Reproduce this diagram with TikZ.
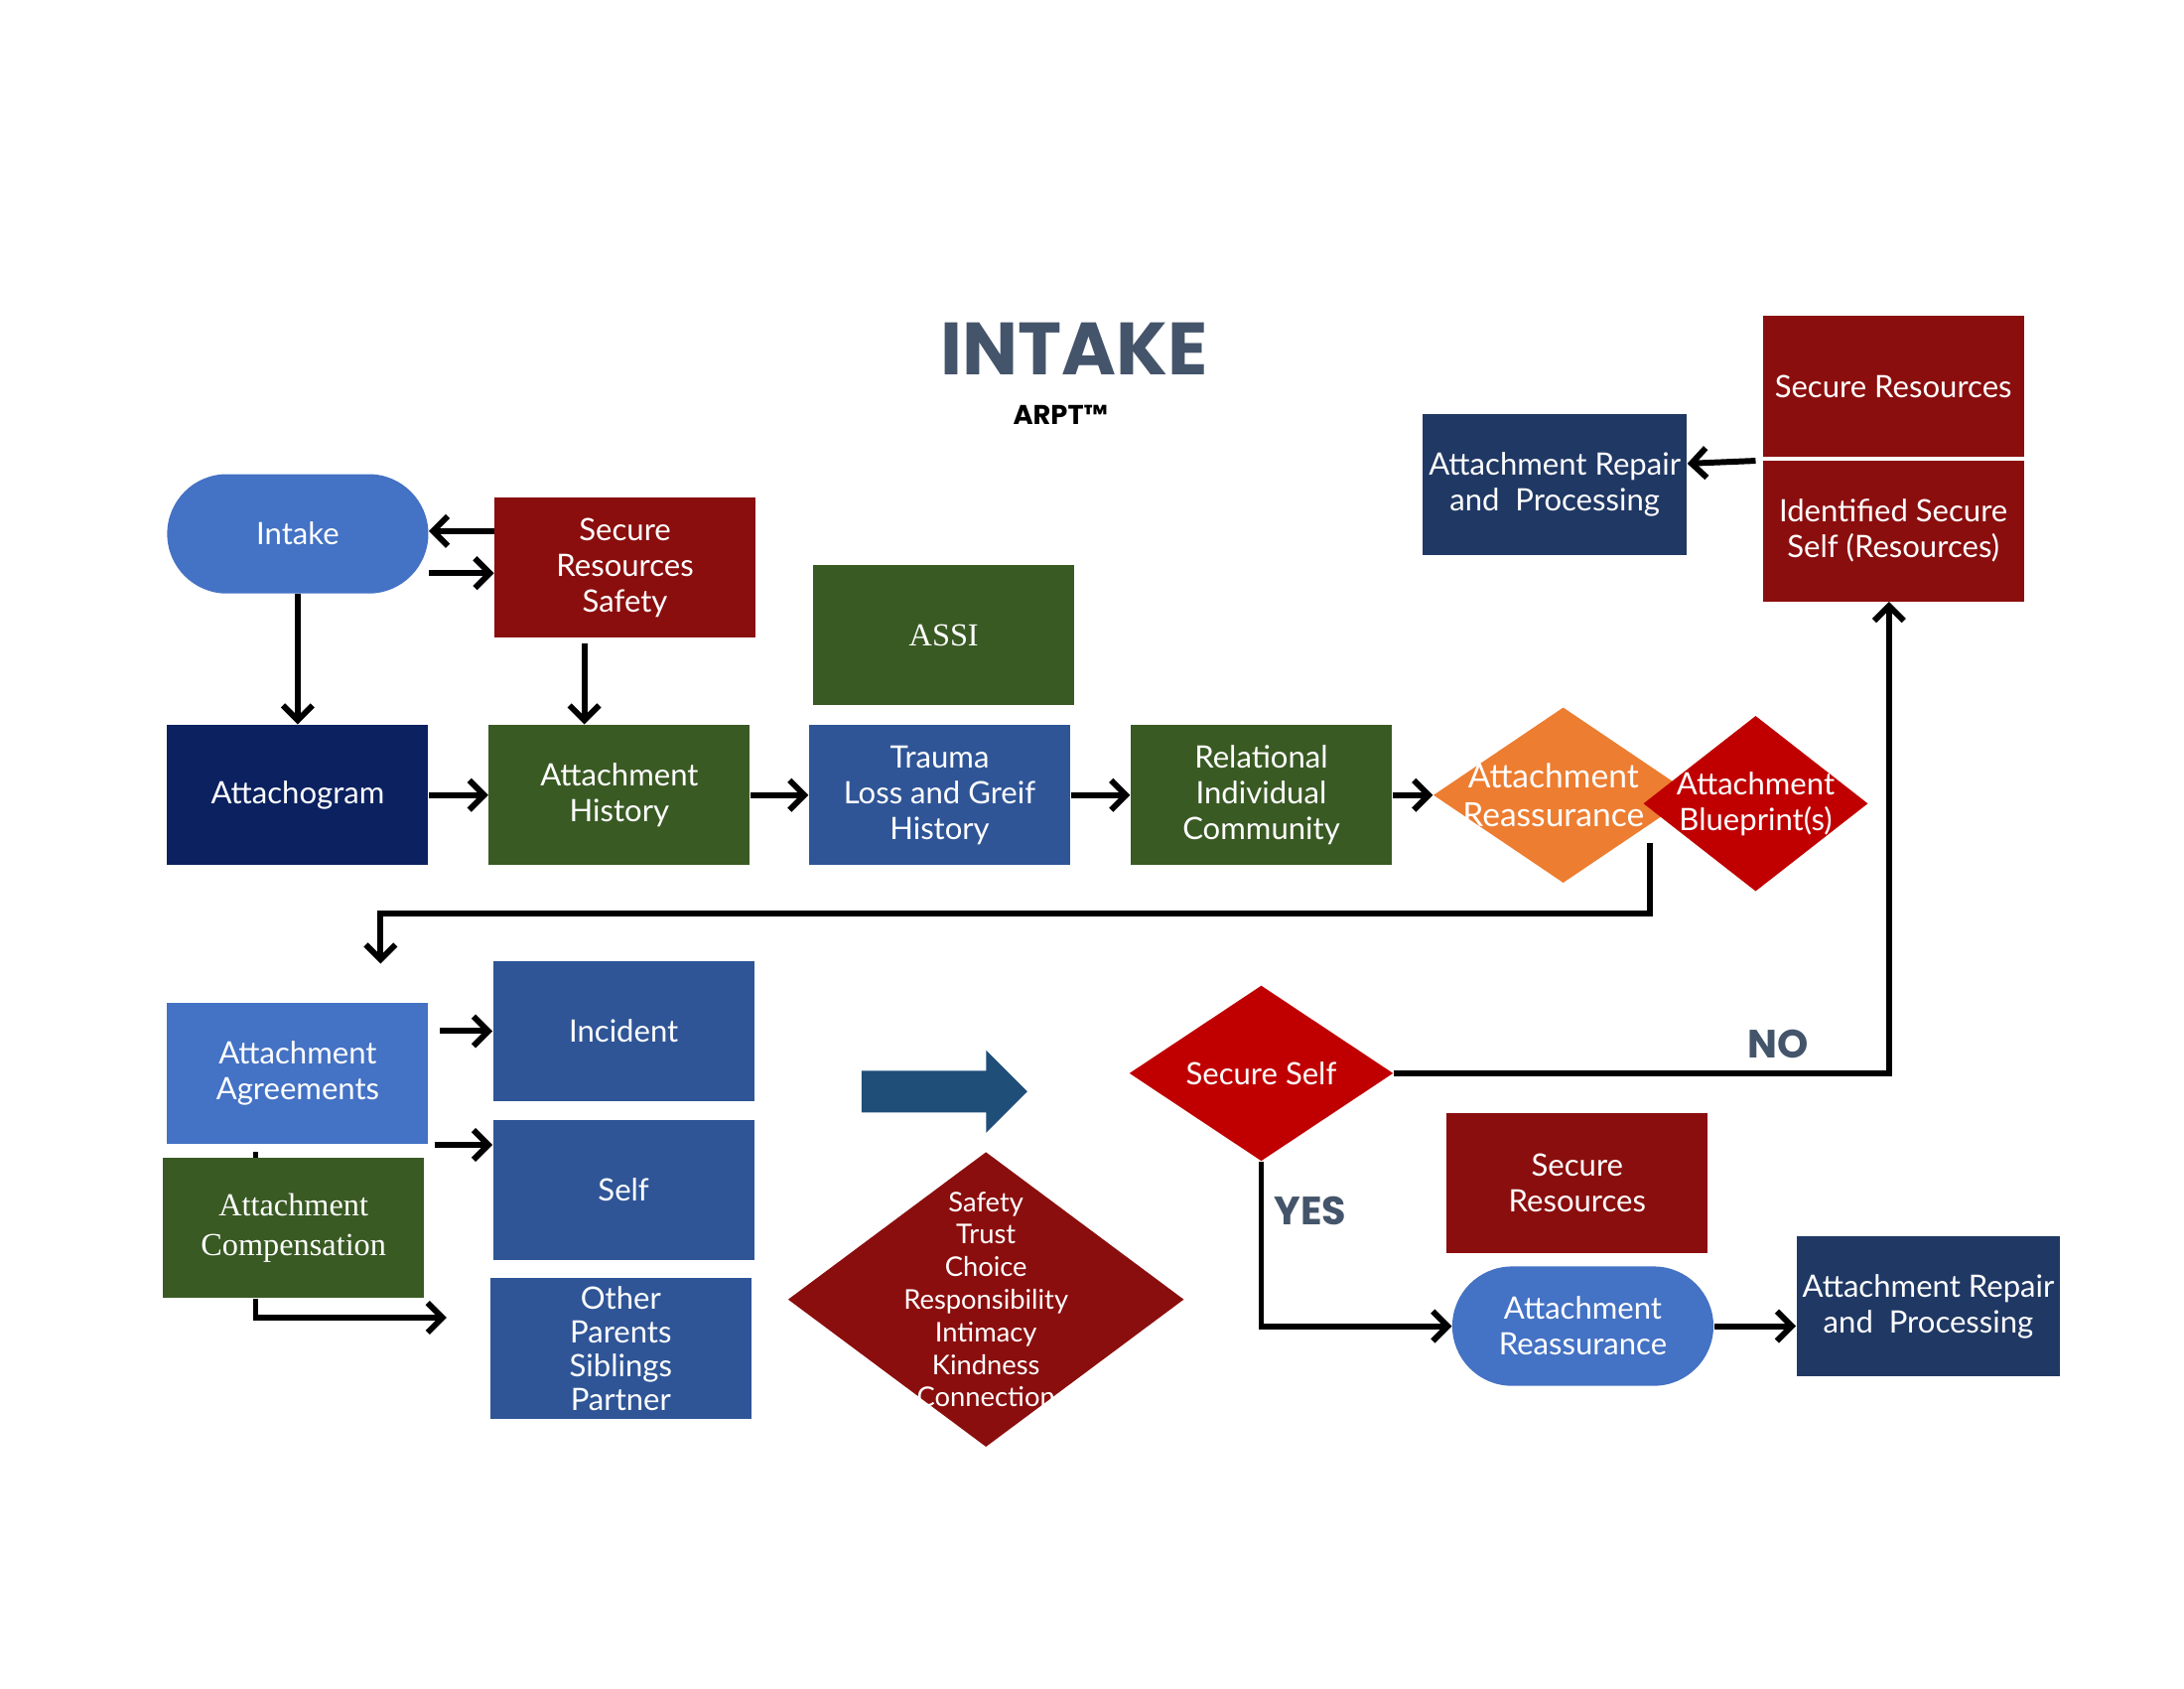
\documentclass[tikz,border=0pt]{standalone}
\usepackage{fontspec}
\setmainfont{Lato}
\newfontfamily\titlefont{Poppins}
\newfontfamily\serffont{Liberation Serif}
\usetikzlibrary{arrows.meta}
\usetikzlibrary{shapes.geometric}
\usetikzlibrary{shapes.arrows}
\definecolor{cdarkred}{HTML}{8B0E0E}
\definecolor{cred}{HTML}{C00000}
\definecolor{cgreen}{HTML}{3A5A24}
\definecolor{cblue}{HTML}{2F5597}
\definecolor{clight}{HTML}{4472C4}
\definecolor{cnavy}{HTML}{0B2160}
\definecolor{cslate}{HTML}{203864}
\definecolor{corange}{HTML}{ED7D31}
\definecolor{ctitle}{HTML}{44546A}
\definecolor{carrow}{HTML}{1F4E79}
\tikzset{
    box/.style = {rectangle, align=center, text=white, minimum width=3.72cm, minimum height=2cm, inner sep=2pt, font=\fontsize{12.5}{14.5}\selectfont},
    pill/.style = {box, rounded corners=0.85cm, minimum height=1.7cm},
    dia/.style = {diamond, inner sep=0pt},
    dtext/.style = {align=center, text=white, font=\fontsize{12.5}{14.5}\selectfont},
    link/.style = {line width=2.4pt, -{Straight Barb[length=6pt,width=12pt,line width=2.4pt]}}
}
\begin{document}
\begin{tikzpicture}[x=0.02cm,y=-0.02cm]
    \useasboundingbox (0,0) rectangle (1555,1202);

    % title
    \node (title) at (765,248) {\titlefont\bfseries\fontsize{30}{32}\selectfont\textcolor{ctitle}{INTAKE}};
    \node (sub) at (755,295) {\titlefont\bfseries\fontsize{11}{13}\selectfont ARPT™};

    % top rows
    \node [pill, fill=clight] (intake) at (212,380) {Intake};
    \node [box, fill=cdarkred] (safety) at (445,404) {Secure\\Resources\\Safety};
    \node [box, fill=cgreen, font=\serffont\fontsize{13}{15}\selectfont] (assi) at (672,452) {ASSI};
    \node [box, fill=cnavy] (gram) at (212,566) {Attachogram};
    \node [box, fill=cgreen] (hist) at (441,566) {Attachment\\History};
    \node [box, fill=cblue] (trauma) at (669,566) {Trauma\\Loss and Greif\\History};
    \node [box, fill=cgreen] (rel) at (898,566) {Relational\\Individual\\Community};
    \node [dia, fill=corange, minimum width=3.7cm, minimum height=2.5cm] (reass) at (1113,566) {};
    \node [dia, fill=cred, minimum width=3.2cm, minimum height=2.5cm] (blue) at (1250,572) {};
    \node [dtext, font=\fontsize{13.5}{15.5}\selectfont] at (1106,566) {Attachment\\Reassurance};
    \node [dtext] at (1250,572) {Attachment\\Blueprint(s)};
    \node [box, fill=cslate, minimum width=3.76cm] (repair) at (1107,345) {Attachment Repair\\and~ Processing};
    \node [box, fill=cdarkred] (secres) at (1348,275) {Secure Resources};
    \node [box, fill=cdarkred] (ident) at (1348,378) {Identified Secure\\Self (Resources)};

    % lower left
    \node [box, fill=clight] (agree) at (212,764) {Attachment\\Agreements};
    \node [box, fill=cgreen, font=\serffont\fontsize{13}{16}\selectfont] (comp) at (209,874) {Attachment\\Compensation};
    \node [box, fill=cblue] (incid) at (444,734) {Incident};
    \node [box, fill=cblue] (self) at (444,847) {Self};
    \node [box, fill=cblue, font=\fontsize{12.5}{13.8}\selectfont] (other) at (442,960) {Other\\Parents\\Siblings\\Partner};
    \node [single arrow, fill=carrow, minimum height=2.36cm, inner sep=0.29cm, single arrow head extend=0.29cm, single arrow head indent=0pt] (big) at (665,777) {};
    \node [dia, fill=cdarkred, minimum width=5.64cm, minimum height=4.2cm] (values) at (702,925) {};
    \node [dtext, font=\fontsize{11}{13.2}\selectfont] at (702,925) {Safety\\Trust\\Choice\\Responsibility\\Intimacy\\Kindness\\Connection};

    % lower right
    \node [dia, fill=cred, minimum width=3.76cm, minimum height=2.5cm] (sself) at (898,764) {};
    \node [dtext] at (898,764) {Secure Self};
    \node [box, fill=cdarkred] (secres2) at (1123,842) {Secure\\Resources};
    \node [pill, fill=clight] (reass2) at (1127,944) {Attachment\\Reassurance};
    \node [box, fill=cslate, minimum width=3.76cm] (repair2) at (1373,930) {Attachment Repair\\and~ Processing};
    \node [font=\titlefont\bfseries\fontsize{16}{18}\selectfont, text=ctitle] (no) at (1266,743) {NO};
    \node [font=\titlefont\bfseries\fontsize{16}{18}\selectfont, text=ctitle] (yes) at (933,862) {YES};

    % connectors
    \coordinate (turnA) at (1175,600);
    \coordinate (turnB) at (271,686);
    \coordinate (tick) at (182,820);
    \coordinate (compEnd) at (318,938);
    \draw [link] (safety.west |- 0,378) -- (intake.east |- 0,378);
    \draw [link] (intake.east |- 0,408) -- (safety.west |- 0,408);
    \draw [link] (intake.south) -- (gram.north);
    \draw [link] (416,458) -- (hist.north -| 416,0);
    \draw [link] (gram) -- (hist);
    \draw [link] (hist) -- (trauma);
    \draw [link] (trauma) -- (rel);
    \draw [link] (rel) -- (reass);
    \draw [link] (turnA) |- (turnB |- 0,650) -- (turnB);
    \draw [link] (sself.east) -| (ident.south -| 1345,0);
    \draw [link] (1250,328) -- (repair.east |- 0,330);
    \draw [link] (agree.east |- 0,734) ++(8,0) -- (incid.west);
    \draw [link] (agree.east |- 0,815) ++(4,0) -- (self.west |- 0,815);
    \draw [line width=2.4pt] (tick) -- ++(0,4);
    \draw [link] (comp.south -| tick) |- (compEnd);
    \draw [link] (sself.south) |- (reass2.west);
    \draw [link] (reass2.east) -- (repair2.west |- reass2.east);
\end{tikzpicture}
\end{document}
